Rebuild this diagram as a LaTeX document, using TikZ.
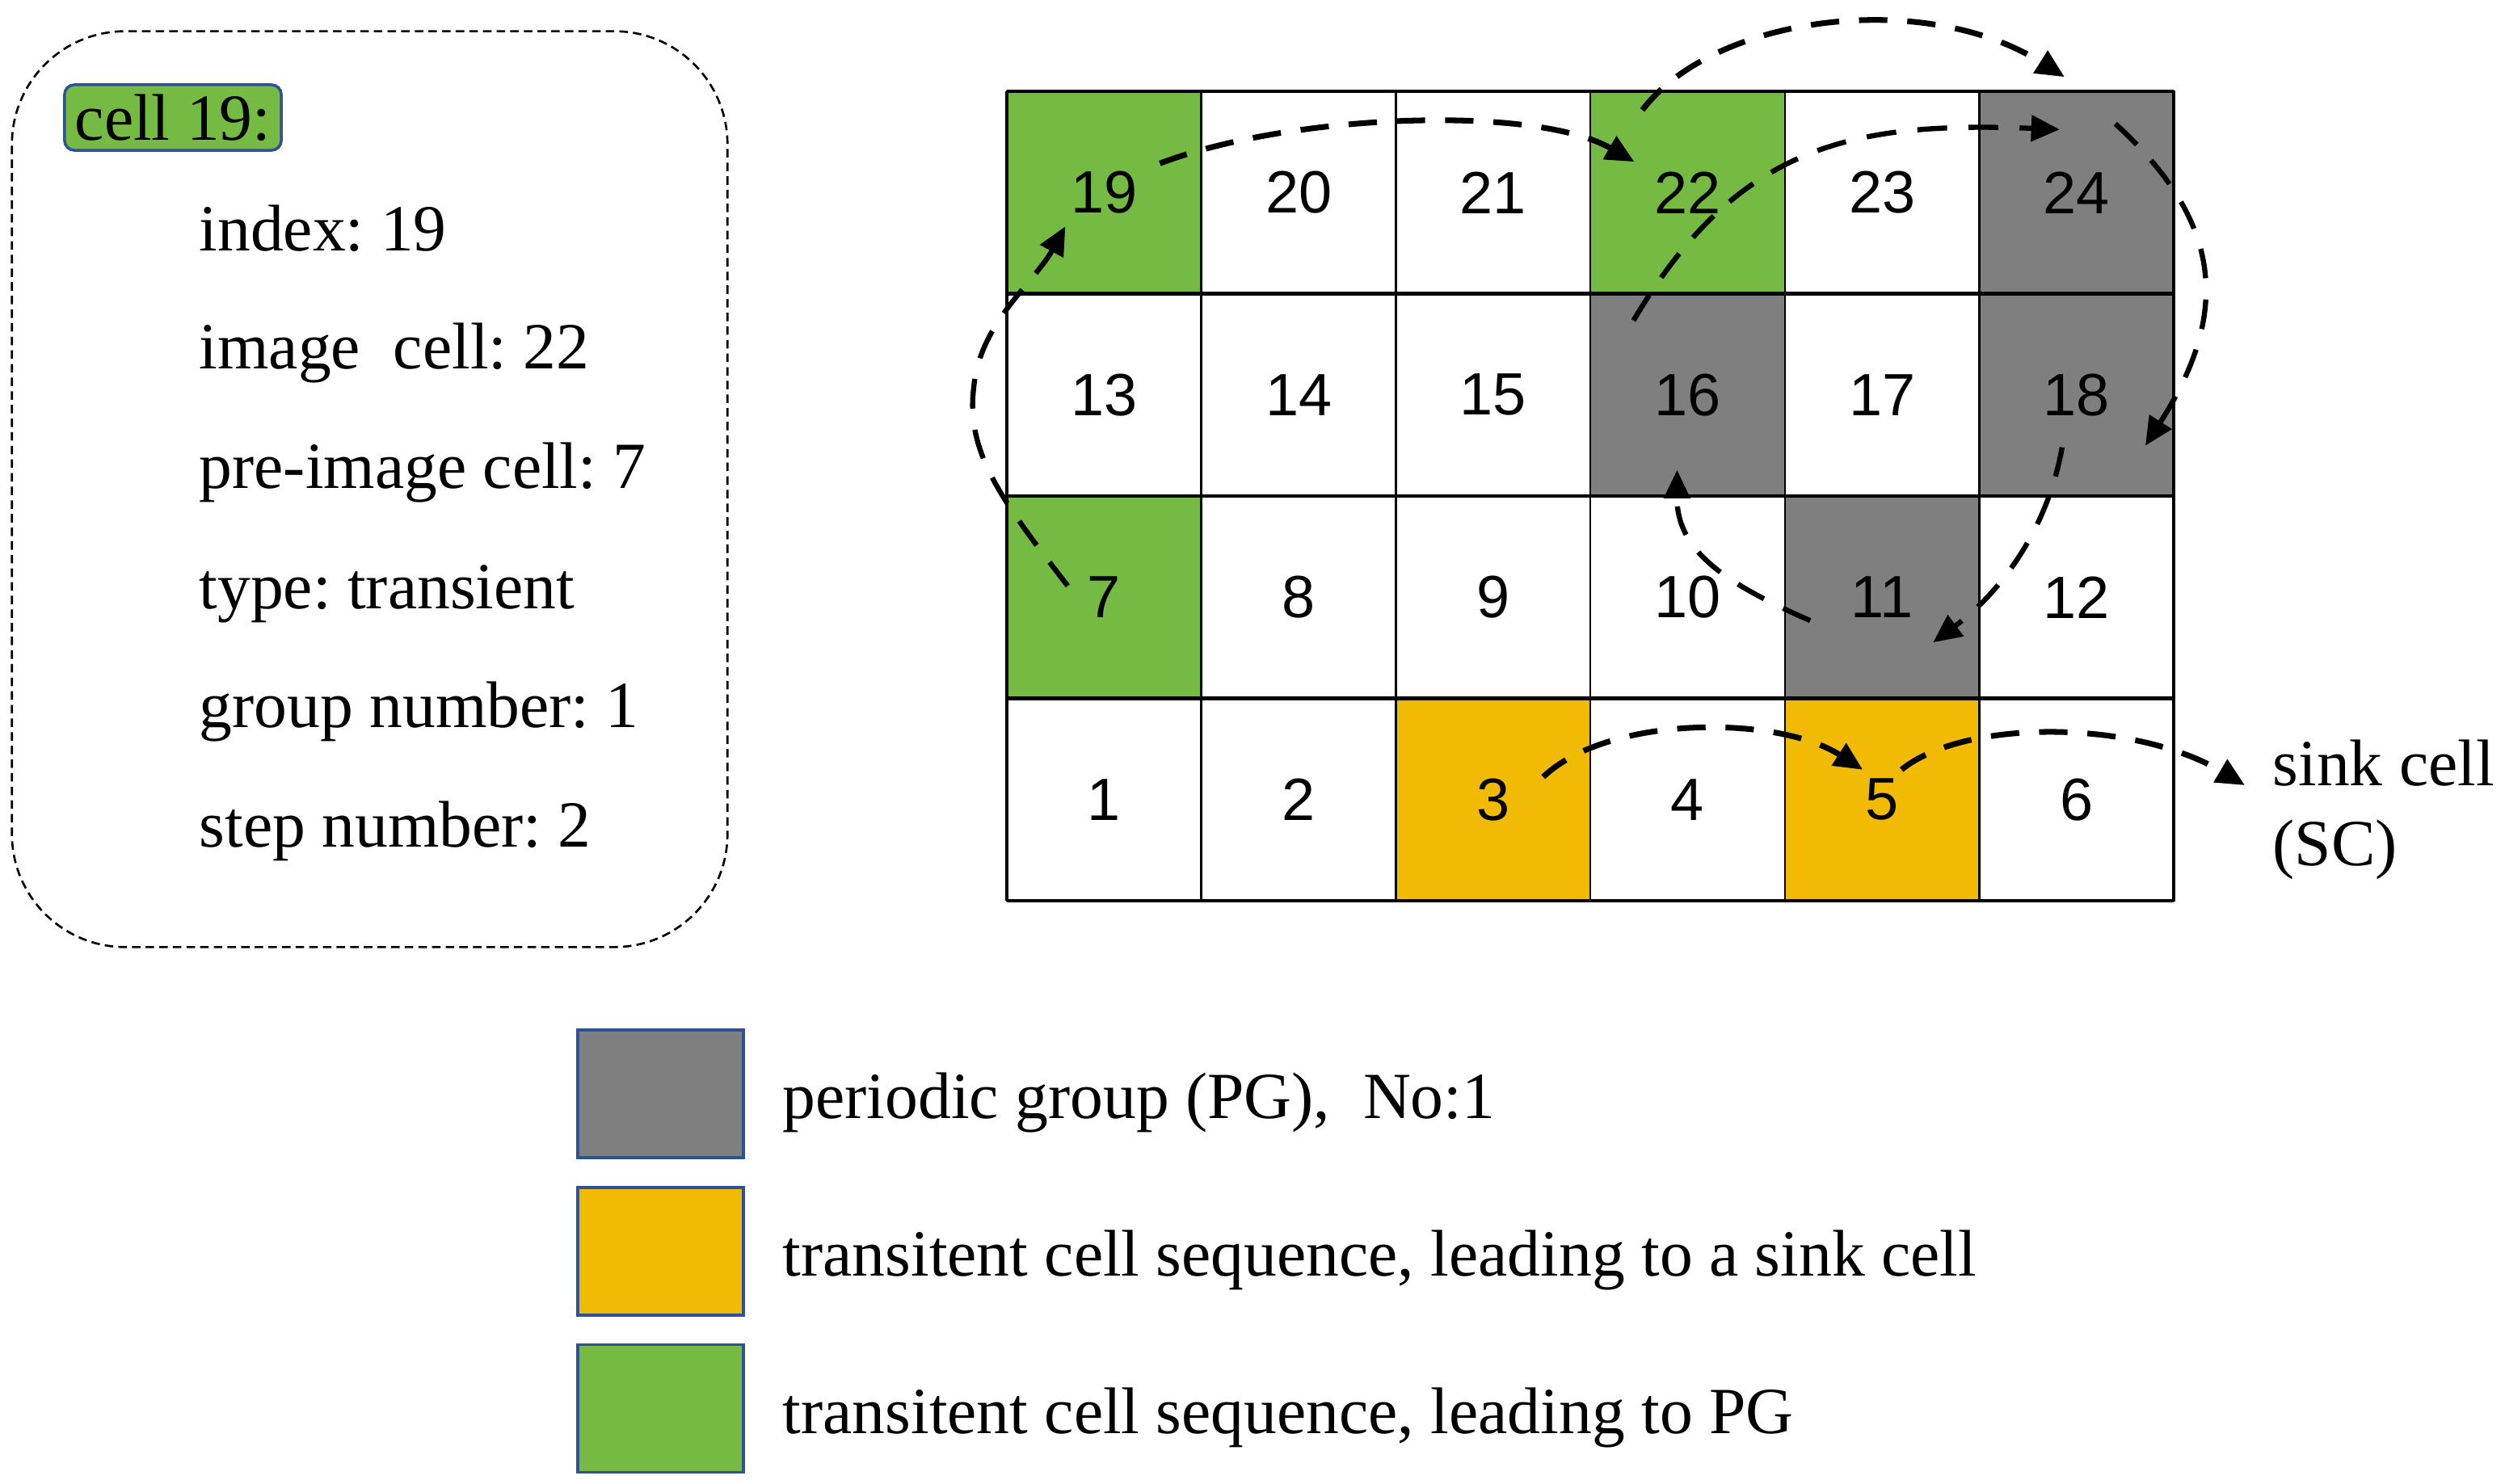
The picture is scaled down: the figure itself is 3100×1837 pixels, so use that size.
\documentclass[tikz,border=0pt]{standalone}
\usepackage{fontspec}
\setmainfont{Liberation Serif}
\newfontfamily\cellfont{Liberation Sans}
\usetikzlibrary{arrows.meta}
\frenchspacing
\definecolor{cgreen}{RGB}{117,187,67}
\definecolor{cgrey}{RGB}{127,127,127}
\definecolor{cyel}{RGB}{241,187,5}
\definecolor{cblue}{RGB}{47,82,150}
\newcommand\mytxt{\frenchspacing\fontsize{23.2}{28}\selectfont}
\newcommand\mynum{\cellfont\fontsize{21}{25}\selectfont}
\tikzset{
  cell/.style={draw, line width=0.7pt, minimum width=2.407cm, minimum height=2.505cm, inner sep=0pt, outer sep=0pt, font=\mynum},
  gridline/.style={line width=1.2pt},
  txt/.style={anchor=base west, inner sep=0pt, font=\mytxt},
  legbox/.style={draw=cblue, line width=1.1pt, minimum width=2.05cm, minimum height=1.58cm, inner sep=0pt},
  infobox/.style={draw, line width=0.75pt, dash pattern=on 3pt off 1.8pt, rounded corners=1.4cm, minimum width=8.85cm, minimum height=11.33cm},
  tagbox/.style={draw=cblue, fill=cgreen, line width=1pt, rounded corners=0.12cm, minimum width=2.68cm, minimum height=0.81cm, inner sep=0pt, font=\mytxt},
  tipstyle/.style={-{Triangle[length=10pt,width=9pt]}},
  dashA/.style={tipstyle, line width=2pt, dash pattern=on 10pt off 7pt},
  dashB/.style={tipstyle, line width=1.8pt, dash pattern=on 10.5pt off 7.5pt}
}
\begin{document}
\begin{tikzpicture}[x=0.01cm, y=-0.01cm]
\path[use as bounding box] (0,0) rectangle (3100,1837);

% info box
\node[infobox] (info) at (457.5,605.5) {};
\node[tagbox] (tag) at (214,145.5) {cell 19:};
\node[txt] (l1) at (246,311) {index: 19};
\node[txt] (l2) at (246,457) {image\ \ cell: 22};
\node[txt] (l3) at (246,605) {pre-image cell: 7};
\node[txt] (l4) at (246,754) {type: transient};
\node[txt] (l5) at (246,900) {group number: 1};
\node[txt] (l6) at (246,1048) {step number: 2};

% grid cells
\foreach \n/\f in {1/white,2/white,3/cyel,4/white,5/cyel,6/white,
                   7/cgreen,8/white,9/white,10/white,11/cgrey,12/white,
                   13/white,14/white,15/white,16/cgrey,17/white,18/cgrey,
                   19/cgreen,20/white,21/white,22/cgreen,23/white,24/cgrey}{
  \pgfmathtruncatemacro\col{mod(\n-1,6)}
  \pgfmathtruncatemacro\row{div(\n-1,6)}
  \node[cell, fill=\f] (c\n) at ({1246+(\col+0.5)*240.7},{113+(3-\row+0.5)*250.5}) {\n};
}
\draw[gridline] (c19.north west) -- (c24.north east);
\draw[gridline] (c13.north west) -- (c18.north east);
\draw[gridline] (c7.north west) -- (c12.north east);
\draw[gridline] (c1.north west) -- (c6.north east);
\draw[gridline] (c1.south west) -- (c6.south east);
\draw[gridline] (c19.north west) -- (c1.south west);
\draw[gridline] (c24.north east) -- (c6.south east);

% sink cell label
\node[txt] (sink) at (2812,972) {sink cell};
\node[txt] (sc) at (2812,1071) {(SC)};

% transient to PG
\draw[dashB] ([shift={(-45,-14)}]c7.center) .. controls (1240,620) and (1195,560) .. (1205,480)
   .. controls (1212,400) and (1280,350) .. ([shift={(-48,42)}]c19.center);
\draw[dashA] ([shift={(69,-36)}]c19.center) .. controls (1600,140) and (1900,130) .. ([shift={(-66,-38)}]c22.center);
\draw[dashA] ([shift={(-56,-102)}]c22.center) .. controls (2120,20) and (2380,-15) .. ([shift={(-15,-143)}]c24.center);

% periodic group
\draw[dashB] ([shift={(48,-85)}]c24.center) .. controls (2745,270) and (2765,380) .. ([shift={(85,63)}]c18.center);
\draw[dashB] ([shift={(-18,65)}]c18.center) .. controls (2535,650) and (2480,730) .. ([shift={(63,56)}]c11.center);
\draw[dashB] ([shift={(-89,29)}]c11.center) .. controls (2130,720) and (2075,680) .. ([shift={(-13,93)}]c16.center);
\draw[dashB] ([shift={(-67,-92)}]c16.center) .. controls (2150,180) and (2290,150) .. ([shift={(-21,-78)}]c24.center);

% transient to sink
\draw[dashA] ([shift={(62,-28)}]c3.center) .. controls (1990,885) and (2200,885) .. ([shift={(-24,-37)}]c5.center);
\draw[dashA] ([shift={(24,-37)}]c5.center) .. controls (2430,890) and (2640,890) .. ([shift={(-34,0)}]sink.base west);

% legend
\node[legbox, fill=cgrey] (lg1) at (817.5,1354) {};
\node[legbox, fill=cyel] (lg2) at (817.5,1549) {};
\node[legbox, fill=cgreen] (lg3) at (817.5,1743.5) {};
\node[txt] (t1) at (968,1384) {periodic group (PG),\ \ No:1};
\node[txt] (t2) at (968,1579) {transitent cell sequence, leading to a sink cell};
\node[txt] (t3) at (968,1774) {transitent cell sequence, leading to PG};
\end{tikzpicture}
\end{document}
